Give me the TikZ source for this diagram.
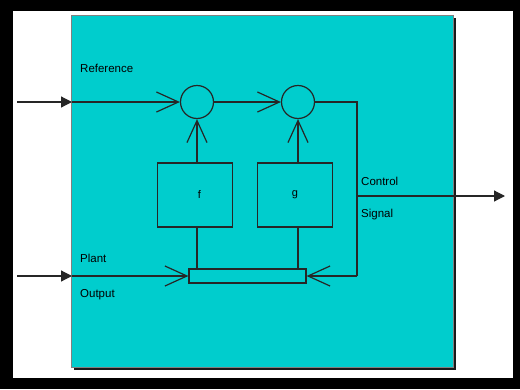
\documentclass[tikz,border=0pt]{standalone}
\usepackage{fontspec}
\setmainfont{Liberation Sans}
\usetikzlibrary{arrows.meta,positioning}

\definecolor{panel}{RGB}{0,205,205}

\tikzset{
  sig/.style={draw=black!85, line width=1.2pt},
  openhead/.style={sig, -{Straight Barb[length=22pt,width=20pt]}},
  filledhead/.style={sig, -{Triangle[length=11pt,width=11pt]}},
  sumnode/.style={circle, draw=black!85, line width=1.2pt, minimum size=33pt, inner sep=0pt},
  blockbox/.style={draw=black!85, line width=1.2pt, minimum width=75pt, minimum height=64pt, inner sep=0pt},
  tag/.style={anchor=base west, inner sep=0pt, font=\fontsize{11.5}{12}\selectfont, text=black}
}

\begin{document}
\begin{tikzpicture}[x=1pt,y=-1pt]
    \useasboundingbox (0,0) rectangle (520,389);
    % Frame
    \fill[black] (0,0) rectangle (520,389);
    \fill[white] (13,11) rectangle (513,378);
    % Panel with its shadow
    \fill[black!90] (74,18) rectangle (456,370);
    \filldraw[fill=panel, draw=black!50, line width=0.6pt] (71,15) rectangle (453,367);

    % Summing points and blocks
    \node[sumnode] (sum1) at (197,102) {};
    \node[sumnode] (sum2) at (298,102) {};
    \node[blockbox, text=black] (f) at (195,195) {\hspace{9pt}\fontsize{11}{12}\selectfont f};
    \node[blockbox, text=black] (g) at (295,195) {\fontsize{11}{12}\selectfont g\hspace{4pt}};
    \node[draw=black!85, line width=1.2pt, minimum width=117pt, minimum height=14pt, inner sep=0pt] (bar) at (247.5,276) {};

    % Corners and free ends
    \coordinate (refin) at (17,102);
    \coordinate (refedge) at (72,102);
    \coordinate (plantin) at (17,276);
    \coordinate (plantedge) at (72,276);
    \coordinate (topturn) at (357,102);
    \coordinate (lowturn) at (357,276);
    \coordinate (tap) at (357,196);
    \coordinate (ctrlout) at (505,196);

    % Reference path
    \draw[filledhead] (refin) -- (refedge);
    \draw[openhead] (refedge) -- (sum1);
    \draw[openhead] (sum1) -- (sum2);
    \draw[sig] (sum2) -- (topturn) -- (lowturn);
    \draw[openhead] (lowturn) -- (bar.east);

    % Plant output path
    \draw[filledhead] (plantin) -- (plantedge);
    \draw[openhead] (plantedge) -- (bar.west);

    % Blocks between bar and summing points
    \draw[sig] (sum1 |- bar.north) -- (sum1 |- f.south);
    \draw[openhead] (sum1 |- f.north) -- (sum1);
    \draw[sig] (sum2 |- bar.north) -- (sum2 |- g.south);
    \draw[openhead] (sum2 |- g.north) -- (sum2);

    % Control signal out
    \draw[filledhead] (tap) -- (ctrlout);

    % Labels
    \node[tag] (reflabel) at (80,72) {Reference};
    \node[tag] (plantlabel) at (80,262) {Plant};
    \node[tag] (outlabel) at (80,297) {Output};
    \node[tag] (ctrllabel) at (361,185) {Control};
    \node[tag] (siglabel) at (361,217) {Signal};
\end{tikzpicture}
\end{document}
